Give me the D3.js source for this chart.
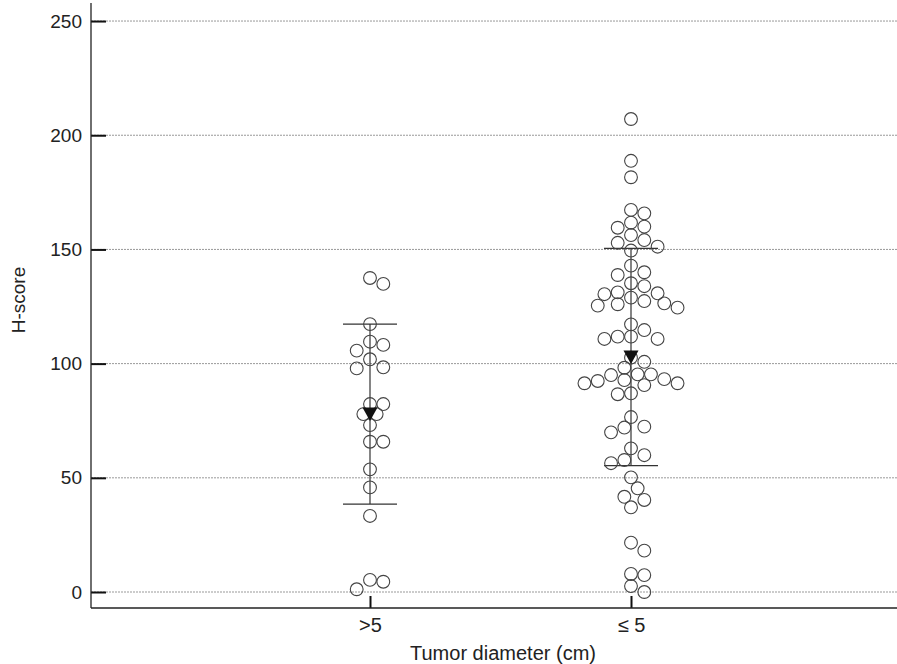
<!DOCTYPE html>
<html>
<head>
<meta charset="utf-8">
<script src="https://cdn.jsdelivr.net/npm/d3@7"></script>
<style>
  body { margin: 0; background: #fff; }
  svg text { font-family: "Liberation Sans", Arial, sans-serif; fill: #222; }
</style>
</head>
<body>
<svg id="chart"></svg>
<script>
// groups on the x axis
var categories = ['>5', '≤ 5'];

// H-score of each case
var scoresGt5 = [137.5, 134.9, 117.3, 109.6, 108.2, 105.7, 101.9, 98.4, 97.9,
    82.3, 82.3, 77.9, 77.9, 73.1, 65.8, 65.8, 53.7, 45.8, 33.3, 5.3, 4.5, 1.2];

var scoresLe5 = [207.1, 188.8, 181.6, 167.3, 165.8, 161.7, 160.0, 159.5, 156.3, 154.1,
    152.9, 151.2, 149.5, 142.9, 140.0, 138.8, 135.2, 133.9, 131.2, 130.8, 130.4, 128.9,
    127.4, 126.4, 126.0, 125.4, 124.5, 117.2, 114.7, 111.8, 111.8, 110.8, 110.8,
    102.6, 100.8, 98.2, 95.3, 95.3, 95.0, 93.2, 92.8, 92.4, 91.4, 91.4, 90.6, 87.0, 86.6,
    76.6, 72.4, 72.0, 69.9, 62.9, 59.9, 57.8, 56.4, 50.2, 45.4, 41.7, 40.3, 37.1,
    21.6, 18.1, 7.9, 7.4, 2.6, 0.0];

// mean and SD drawn as triangle and error bar
var groupMeans = [77.9, 102.9];
var groupSDs = [39.4, 47.6];

var yTicks = [0, 50, 100, 150, 200, 250];

var svgWidth = 897,
    svgHeight = 664;

var svg = d3.select('#chart')
    .attr('width', svgWidth)
    .attr('height', svgHeight);

var plotLeft = 91, plotRight = 897, plotTop = 3, plotBottom = 608;

var y = d3.scaleLinear()
    .domain([-7, 257.9])
    .range([plotBottom, plotTop]);

var x = d3.scalePoint()
    .domain(categories)
    .range([370, 631]);

// gridlines (dotted, grey)
svg.append('g')
    .selectAll('line')
    .data(yTicks)
    .enter().append('line')
    .attr('x1', plotLeft)
    .attr('x2', plotRight)
    .attr('y1', function(d) { return y(d); })
    .attr('y2', function(d) { return y(d); })
    .attr('stroke', '#999')
    .attr('stroke-width', 1)
    .attr('stroke-dasharray', '2,1');

// y axis, ticks pointing inside
var yAxis = svg.append('g')
    .attr('transform', 'translate(' + plotLeft + ',0)')
    .call(d3.axisLeft(y).tickValues(yTicks).tickSize(-15).tickPadding(9));

yAxis.select('.domain').remove();
yAxis.selectAll('.tick line').attr('stroke', '#111').attr('stroke-width', 2);
yAxis.selectAll('.tick text').style('font-size', '19px').attr('fill', '#222');

svg.append('line')
    .attr('x1', plotLeft).attr('x2', plotLeft)
    .attr('y1', plotTop).attr('y2', plotBottom)
    .attr('stroke', '#222').attr('stroke-width', 1.3);

// x axis
var xAxis = svg.append('g')
    .attr('transform', 'translate(0,' + plotBottom + ')')
    .call(d3.axisBottom(x).tickSize(-12).tickPadding(10));

xAxis.select('.domain').remove();
xAxis.selectAll('.tick line').attr('stroke', '#111').attr('stroke-width', 2);
xAxis.selectAll('.tick text').style('font-size', '20px').attr('fill', '#222');

svg.append('line')
    .attr('x1', plotLeft).attr('x2', plotRight)
    .attr('y1', plotBottom).attr('y2', plotBottom)
    .attr('stroke', '#222').attr('stroke-width', 1.3);

// axis titles
svg.append('text')
    .attr('x', 503)
    .attr('y', 660)
    .attr('text-anchor', 'middle')
    .style('font-size', '20px')
    .text('Tumor diameter (cm)');

svg.append('text')
    .attr('transform', 'translate(25,300) rotate(-90)')
    .attr('text-anchor', 'middle')
    .style('font-size', '19px')
    .text('H-score');

// beeswarm on a half-dot grid, dots may touch a little
var step = 6.65, minDist = 11.8;

function dodge(values) {
    var pts = values.map(function(v) { return {v: v, py: y(v), dx: 0}; })
        .sort(function(a, b) { return a.py - b.py; });
    var placed = [];
    pts.forEach(function(p) {
        var near = placed.filter(function(q) { return Math.abs(q.py - p.py) < minDist; });
        var bias = d3.sum(near, function(q) { return q.dx; });
        var free = function(c) {
            return near.every(function(q) {
                return (q.dx - c) * (q.dx - c) + (q.py - p.py) * (q.py - p.py) >= minDist * minDist;
            });
        };
        for (var k = 0; k < 20; k++) {
            var first = bias > 0 ? -k * step : k * step;
            if (free(first)) { p.dx = first; break; }
            if (free(-first)) { p.dx = -first; break; }
        }
        placed.push(p);
    });
    return pts;
}

var groups = [scoresGt5, scoresLe5];

groups.forEach(function(vals, gi) {
    var cx = x(categories[gi]);
    var g = svg.append('g');

    // SD bar with caps
    var hi = y(groupMeans[gi] + groupSDs[gi]),
        lo = y(groupMeans[gi] - groupSDs[gi]);
    g.append('line')
        .attr('x1', cx).attr('x2', cx).attr('y1', hi).attr('y2', lo)
        .attr('stroke', '#333').attr('stroke-width', 1.2);
    [hi, lo].forEach(function(yy) {
        g.append('line')
            .attr('x1', cx - 27).attr('x2', cx + 27).attr('y1', yy).attr('y2', yy)
            .attr('stroke', '#333').attr('stroke-width', 1.2);
    });

    g.selectAll('circle')
        .data(dodge(vals))
        .enter().append('circle')
        .attr('cx', function(d) { return cx + d.dx; })
        .attr('cy', function(d) { return d.py; })
        .attr('r', 6.4)
        .attr('fill', 'none')
        .attr('stroke', '#444')
        .attr('stroke-width', 1.1);

    // mean marker
    var my = y(groupMeans[gi]);
    g.append('path')
        .attr('d', 'M' + (cx - 7.5) + ',' + (my - 6.5) + 'L' + (cx + 7.5) + ',' + (my - 6.5) + 'L' + cx + ',' + (my + 7) + 'Z')
        .attr('fill', '#111');
});
</script>
</body>
</html>
